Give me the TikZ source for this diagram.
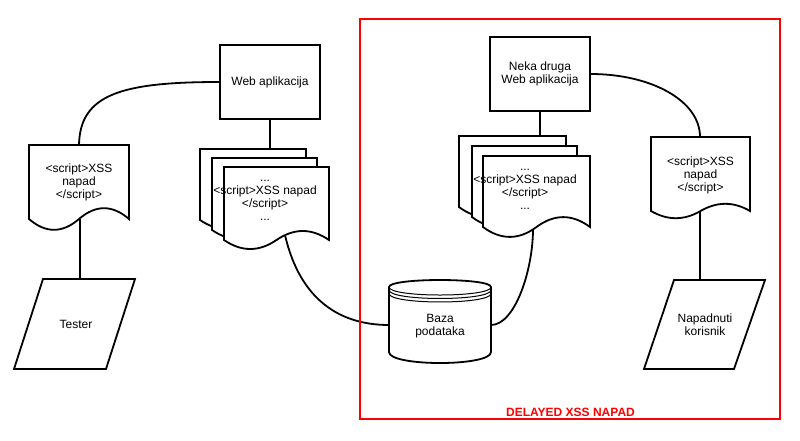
\documentclass[tikz,border=0pt]{standalone}
\usepackage{fontspec}
\setmainfont{Liberation Sans}
\newcommand\docshape[5]{% x, y, w, s, dy
  \filldraw[shapeline, fill=white] (#1,#2) -- ++(#3,0) -- ++(0,#4)
    .. controls +(-#3/6, -0.6*#5) and +(#3/6, -0.6*#5) .. (#1+#3/2, #2+#4)
    .. controls +(-#3/6, 0.6*#5) and +(#3/6, 0.6*#5) .. (#1, #2+#4) -- cycle;}
\begin{document}
\begin{tikzpicture}[x=1pt,y=-1pt,
  shapeline/.style={line width=1.8pt, draw=black, line join=miter},
  conn/.style={line width=1.8pt, draw=black},
  lbl/.style={font=\fontsize{12}{13}\selectfont, align=center, inner sep=0pt},
  boxnode/.style={shapeline, fill=white, minimum width=100pt, minimum height=74pt, lbl},
]
\useasboundingbox[fill=white] (0,0) rectangle (800,440);

% boxes
\node[boxnode] (web) at (270,82) {Web aplikacija};
\node[boxnode] (neka) at (540,74) {Neka druga\\Web aplikacija};

% single documents
\docshape{29}{145}{100}{74}{24}
\node[lbl] (d1) at (79,182) {<script>XSS\\napad\\</script>};
\coordinate (d1top) at (79,145);
\coordinate (d1bot) at (80,219);

\docshape{651}{137}{99}{74}{16}
\node[lbl] (d4) at (700.5,175) {<script>XSS\\napad\\</script>};
\coordinate (d4top) at (700,137);
\coordinate (d4bot) at (700,211);

% multi documents left
\docshape{200}{149}{106}{71}{20}
\docshape{212}{158}{105}{72}{20}
\docshape{224}{167}{105}{73}{20}
\node[lbl] (m1) at (265,200) {...\\<script>XSS napad\\</script>\\...};
\coordinate (m1top) at (270,149);
\coordinate (m1bot) at (285,235);

% multi documents right
\docshape{459}{136}{107}{71}{22}
\docshape{472}{146}{105}{71}{22}
\docshape{483}{156}{107}{71}{22}
\node[lbl] (m2) at (525,189) {...\\<script>XSS napad\\</script>\\...};
\coordinate (m2top) at (540,136);
\coordinate (m2bot) at (533,229);

% parallelograms
\filldraw[shapeline, fill=white] (43,279) -- (135,279) -- (106,369) -- (14,369) -- cycle;
\node[lbl] (tester) at (76,324) {Tester};
\coordinate (testertop) at (80,279);

\filldraw[shapeline, fill=white] (674,280) -- (765,280) -- (734,369) -- (644,369) -- cycle;
\node[lbl] (nap) at (705,325) {Napadnuti\\korisnik};
\coordinate (naptop) at (700,280);

% database
\filldraw[shapeline, fill=white] (389,287) .. controls (389,277.67) and (491,277.67) .. (491,287)
  -- (491,352) .. controls (491,366.67) and (389,366.67) .. (389,352) -- cycle;
\draw[line width=1pt] (389,287) .. controls (389,297.67) and (491,297.67) .. (491,287);
\draw[line width=1pt] (389,290) .. controls (389,301.3) and (491,301.3) .. (491,290);
\draw[line width=1pt] (389,293.5) .. controls (389,304.8) and (491,304.8) .. (491,293.5);
\node[lbl] (baza) at (440,326.5) {Baza\\podataka};
\coordinate (bazaW) at (389,325);
\coordinate (bazaE) at (491,325);

% connectors
\draw[conn] (web.west) .. controls (120,82) and (80,95) .. (d1top);
\draw[conn] (d1bot) -- (testertop);
\draw[conn] (web.south) -- (m1top);
\draw[conn] (m1bot) .. controls (300,300) and (340,325) .. (bazaW);
\draw[conn] (neka.south) -- (m2top);
\draw[conn] (bazaE) .. controls (515,325) and (533,270) .. (m2bot);
\draw[conn] (neka.east) .. controls (650,74) and (700,100) .. (d4top);
\draw[conn] (d4bot) -- (naptop);

% red frame
\draw[red, line width=1.8pt] (360,19) rectangle (780,419);
\node[lbl, font=\fontsize{12}{13}\selectfont\bfseries, text=red] (delayed) at (570.5,412) {DELAYED XSS NAPAD};
\end{tikzpicture}
\end{document}
